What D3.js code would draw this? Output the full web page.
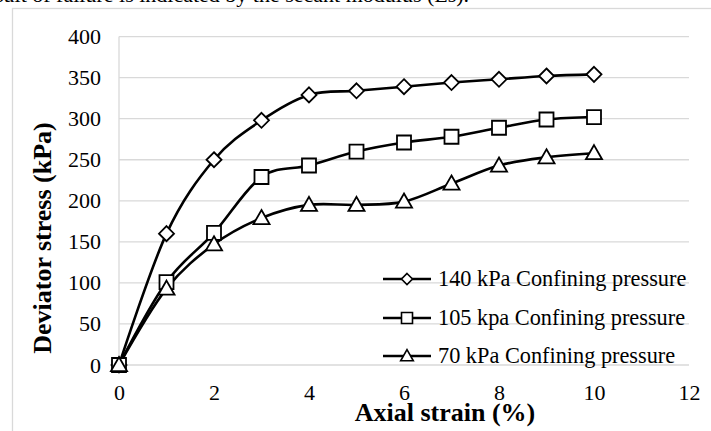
<!DOCTYPE html>
<html>
<head>
<meta charset="utf-8">
<script src="https://cdn.jsdelivr.net/npm/d3@7"></script>
<style>
  html, body { margin: 0; padding: 0; background: #fff; }
  svg { display: block; }
  text { font-family: "Liberation Serif", "Times New Roman", serif; fill: #000; }
</style>
</head>
<body>
<svg id="chart" width="711" height="431"></svg>
<script>
// Axial strain (%) at each reading
const strain = [0, 1, 2, 3, 4, 5, 6, 7, 8, 9, 10];
// Deviator stress (kPa) for each confining pressure
const stress140 = [0, 160, 250, 298, 329, 334, 339, 344, 348, 352, 354];
const stress105 = [0, 101, 161, 229, 243, 260, 271, 278, 289, 299, 302];
const stress70  = [0, 93, 147, 179, 195, 195, 199, 221, 243, 253, 258];
const seriesNames = ["140 kPa Confining pressure", "105 kpa Confining pressure", "70 kPa Confining pressure"];
const markerTypes = ["diamond", "square", "triangle"];
const xTicks = [0, 2, 4, 6, 8, 10, 12];
const yTicks = [0, 50, 100, 150, 200, 250, 300, 350, 400];

const svg = d3.select("#chart");

// caption line running off the top edge
svg.append("text")
  .attr("x", -5).attr("y", 2)
  .style("font-size", "22px")
  .text("sult of failure is indicated by the secant modulus (Es).");

// chart frame
svg.append("rect")
  .attr("x", 12.5).attr("y", 8.5)
  .attr("width", 740).attr("height", 460)
  .attr("fill", "#fff").attr("stroke", "#d9d9d9").attr("stroke-width", 1.3);

const x = d3.scaleLinear().domain([0, 12]).range([119, 689]);
const y = d3.scaleLinear().domain([0, 400]).range([365, 36.6]);

// horizontal gridlines
svg.append("g")
  .selectAll("line").data(yTicks).join("line")
  .attr("x1", x(0)).attr("x2", x(12))
  .attr("y1", d => y(d)).attr("y2", d => y(d))
  .attr("stroke", "#d9d9d9").attr("stroke-width", 1.3);

// vertical axis line
svg.append("line")
  .attr("x1", x(0)).attr("x2", x(0))
  .attr("y1", y(400)).attr("y2", y(0))
  .attr("stroke", "#d9d9d9").attr("stroke-width", 1.3);

// y tick labels
const yAxis = svg.append("g").attr("transform", `translate(${x(0)},0)`)
  .call(d3.axisLeft(y).tickValues(yTicks).tickSize(0).tickPadding(18));
yAxis.select(".domain").remove();
yAxis.selectAll("text")
  .style("font-family", '"Liberation Serif", "Times New Roman", serif')
  .style("font-size", "22px").attr("fill", "#000");

// x tick labels
const xAxis = svg.append("g").attr("transform", `translate(0,${y(0)})`)
  .call(d3.axisBottom(x).tickValues(xTicks).tickSize(0).tickPadding(19));
xAxis.select(".domain").remove();
xAxis.selectAll("text")
  .style("font-family", '"Liberation Serif", "Times New Roman", serif')
  .style("font-size", "22px").attr("fill", "#000");

// axis titles
svg.append("text")
  .attr("x", 445).attr("y", 421)
  .attr("text-anchor", "middle")
  .style("font-size", "26px").style("font-weight", "bold")
  .text("Axial strain (%)");

svg.append("text")
  .attr("transform", "translate(51,238) rotate(-90)")
  .attr("text-anchor", "middle")
  .style("font-size", "26px").style("font-weight", "bold")
  .text("Deviator stress (kPa)");

// marker drawing
function markerPath(type, s) {
  const h = s / 2;
  if (type === "diamond") return `M0,${-h}L${h},0L0,${h}L${-h},0Z`;
  if (type === "square") return `M${-h},${-h}H${h}V${h}H${-h}Z`;
  const t = h * 1.15;
  return `M0,${-t}L${t},${t * 0.75}L${-t},${t * 0.75}Z`;
}
const markerSize = { diamond: 15, square: 14, triangle: 14 };

const allSeries = [stress140, stress105, stress70];
const line = d3.line()
  .x((d, i) => x(strain[i]))
  .y(d => y(d))
  .curve(d3.curveCardinal.tension(0));

const plot = svg.append("g");
allSeries.forEach(vals => {
  plot.append("path")
    .attr("d", line(vals))
    .attr("fill", "none").attr("stroke", "#000").attr("stroke-width", 2.6);
});
allSeries.forEach((vals, k) => {
  plot.append("g").selectAll("path").data(vals).join("path")
    .attr("transform", (d, i) => `translate(${x(strain[i])},${y(d)})`)
    .attr("d", markerPath(markerTypes[k], markerSize[markerTypes[k]]))
    .attr("fill", "#fff").attr("stroke", "#000").attr("stroke-width", 1.8);
});

// legend
const legendRows = [279, 318, 356];
const legend = svg.append("g");
seriesNames.forEach((name, k) => {
  const gy = legendRows[k];
  legend.append("line")
    .attr("x1", 383).attr("x2", 431).attr("y1", gy).attr("y2", gy)
    .attr("stroke", "#000").attr("stroke-width", 2.6);
  legend.append("path")
    .attr("transform", `translate(407,${gy})`)
    .attr("d", markerPath(markerTypes[k], 11))
    .attr("fill", "#fff").attr("stroke", "#000").attr("stroke-width", 1.6);
  legend.append("text")
    .attr("x", 438).attr("y", gy + 7)
    .style("font-size", "22.3px")
    .text(name);
});
</script>
</body>
</html>
